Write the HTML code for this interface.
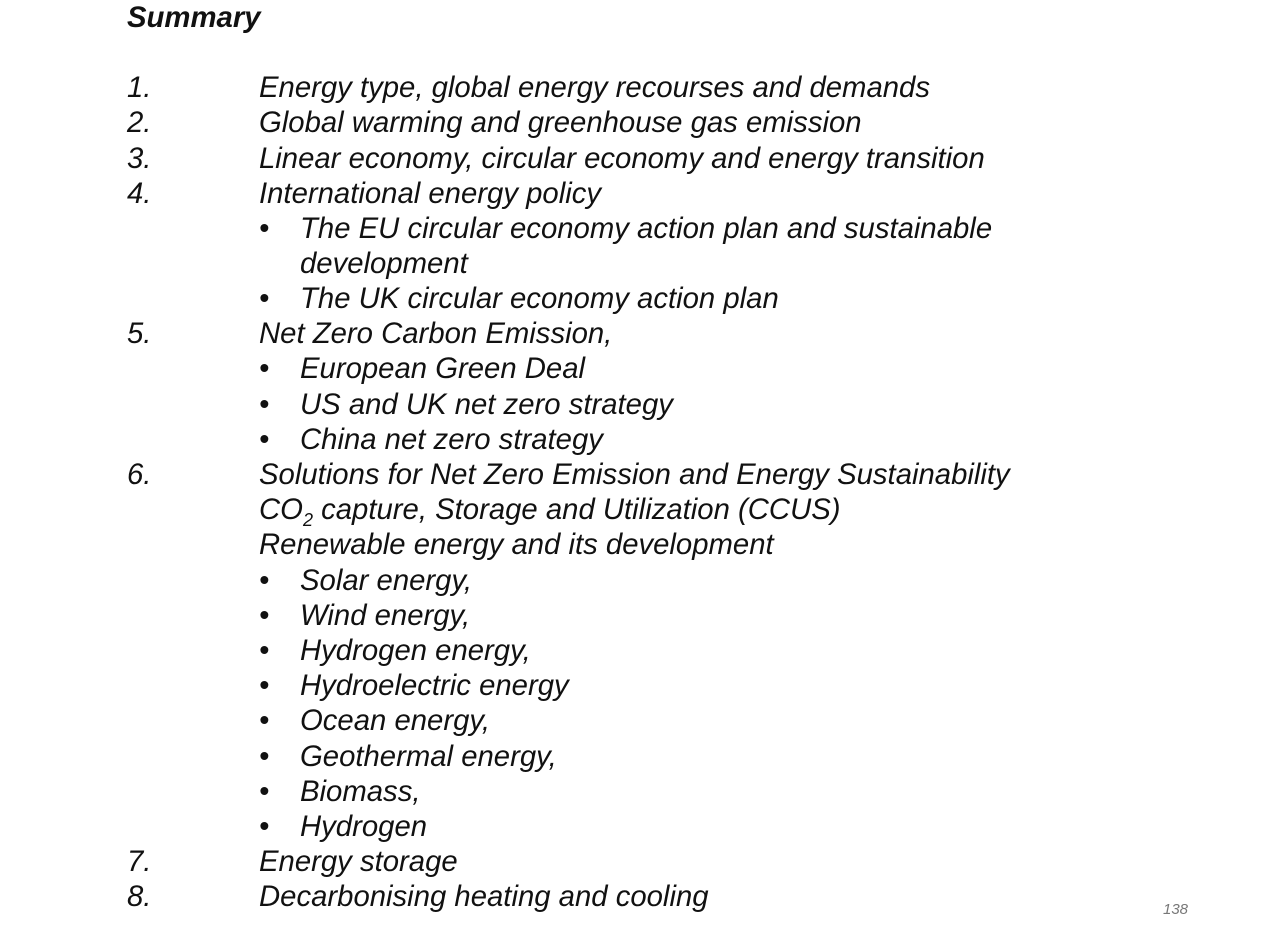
<!DOCTYPE html>
<html><head><meta charset="utf-8">
<style>
html,body{margin:0;padding:0;background:#fff;}
body{width:1280px;height:934px;position:relative;overflow:hidden;font-family:"Liberation Sans",Arial,sans-serif;color:#111;}
.l{position:absolute;font-style:italic;font-size:29.3px;line-height:32px;white-space:nowrap;}
.t{font-weight:bold;font-size:29.3px;}
sub{font-size:18px;line-height:0;}
.pg{position:absolute;left:1163px;top:901px;font-size:15px;font-style:italic;color:#777;}
</style></head><body>
<div class="l t" style="left:127px;top:2px">Summary</div>

<div>
<div class="l" style="left:127px;top:72px">1.</div>
<div class="l" style="left:259px;top:72px">Energy type, global energy recourses and demands</div>
<div class="l" style="left:127px;top:107px">2.</div>
<div class="l" style="left:259px;top:107px">Global warming and greenhouse gas emission</div>
<div class="l" style="left:127px;top:143px">3.</div>
<div class="l" style="left:259px;top:143px">Linear economy, circular economy and energy transition</div>
<div class="l" style="left:127px;top:178px">4.</div>
<div class="l" style="left:259px;top:178px">International energy policy</div>
<div class="l" style="left:259px;top:213px">•</div>
<div class="l" style="left:300px;top:213px">The EU circular economy action plan and sustainable</div>
<div class="l" style="left:300px;top:248px">development</div>
<div class="l" style="left:259px;top:283px">•</div>
<div class="l" style="left:300px;top:283px">The UK circular economy action plan</div>
<div class="l" style="left:127px;top:318px">5.</div>
<div class="l" style="left:259px;top:318px">Net Zero Carbon Emission,</div>
<div class="l" style="left:259px;top:353px">•</div>
<div class="l" style="left:300px;top:353px">European Green Deal</div>
<div class="l" style="left:259px;top:389px">•</div>
<div class="l" style="left:300px;top:389px">US and UK net zero strategy</div>
<div class="l" style="left:259px;top:424px">•</div>
<div class="l" style="left:300px;top:424px">China net zero strategy</div>
<div class="l" style="left:127px;top:459px">6.</div>
<div class="l" style="left:259px;top:459px">Solutions for Net Zero Emission and Energy Sustainability</div>
<div class="l" style="left:259px;top:494px">CO<sub>2</sub> capture, Storage and Utilization (CCUS)</div>
<div class="l" style="left:259px;top:529px">Renewable energy and its development</div>
<div class="l" style="left:259px;top:565px">•</div>
<div class="l" style="left:300px;top:565px">Solar energy,</div>
<div class="l" style="left:259px;top:600px">•</div>
<div class="l" style="left:300px;top:600px">Wind energy,</div>
<div class="l" style="left:259px;top:635px">•</div>
<div class="l" style="left:300px;top:635px">Hydrogen energy,</div>
<div class="l" style="left:259px;top:670px">•</div>
<div class="l" style="left:300px;top:670px">Hydroelectric energy</div>
<div class="l" style="left:259px;top:705px">•</div>
<div class="l" style="left:300px;top:705px">Ocean energy,</div>
<div class="l" style="left:259px;top:741px">•</div>
<div class="l" style="left:300px;top:741px">Geothermal energy,</div>
<div class="l" style="left:259px;top:776px">•</div>
<div class="l" style="left:300px;top:776px">Biomass,</div>
<div class="l" style="left:259px;top:811px">•</div>
<div class="l" style="left:300px;top:811px">Hydrogen</div>
<div class="l" style="left:127px;top:846px">7.</div>
<div class="l" style="left:259px;top:846px">Energy storage</div>
<div class="l" style="left:127px;top:881px">8.</div>
<div class="l" style="left:259px;top:881px">Decarbonising heating and cooling</div>
</div>

<div class="pg">138</div>
</body></html>
